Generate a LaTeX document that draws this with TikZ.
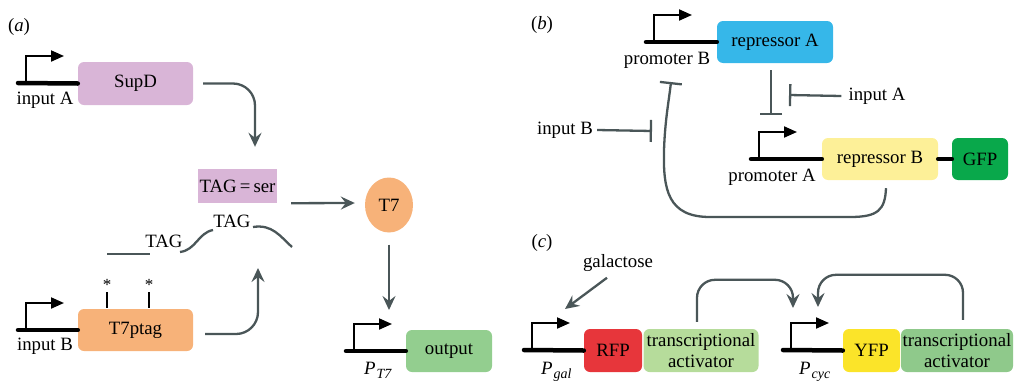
\documentclass[tikz,border=0pt]{standalone}
\usepackage{fontspec}
\setmainfont{Liberation Serif}
\usetikzlibrary{positioning,arrows.meta,shapes.geometric}
\definecolor{linkgray}{HTML}{4A5658}
\definecolor{supdpink}{HTML}{D9B5D7}
\definecolor{tsevenorange}{HTML}{F7B279}
\definecolor{outgreen}{HTML}{93CE8F}
\definecolor{repablue}{HTML}{36B7E9}
\definecolor{repbyellow}{HTML}{FDF098}
\definecolor{gfpgreen}{HTML}{09A84B}
\definecolor{rfpred}{HTML}{E7363B}
\definecolor{taonegreen}{HTML}{B6DC9B}
\definecolor{yfpyellow}{HTML}{FBE429}
\definecolor{tatwogreen}{HTML}{8FC98B}
\newcommand\promlab[2]{\textit{#1}\kern1pt\raisebox{-4pt}{\fontsize{14}{14}\selectfont\textit{#2}}}

\begin{document}
\begin{tikzpicture}[x=1pt, y=-1pt,
  every node/.style={inner sep=0pt, font=\fontsize{18.8}{21}\selectfont},
  gene/.style={rounded corners=6pt, minimum height=43pt, align=center},
  dna/.style={line width=4.5pt, line cap=round, black},
  tss/.style={line width=2pt, black, -{Triangle[length=13pt,width=11pt]}},
  act/.style={line width=2.3pt, linkgray, -{Stealth[length=14pt,width=13pt,inset=5pt]}},
  rep/.style={line width=2.3pt, linkgray, -{Bar[width=22pt]}}]
  \useasboundingbox (0,0) rectangle (1016,383);

  % (a)
  \node (la) at (19,27) {(\textit{a})};
  \node (supd) [gene, fill=supdpink, minimum width=115pt] at (135.5,83.5) {SupD};
  \node (t7ptag) [gene, fill=tsevenorange, minimum width=115pt, minimum height=42pt] at (135.5,330) {T7ptag};
  \node (tagser) [fill=supdpink, minimum width=79pt, minimum height=34pt] at (237.5,186) {TAG\,=\,ser};
  \node (t7) [ellipse, fill=tsevenorange, minimum width=48pt, minimum height=55pt] at (389,205) {T7};
  \node (output) [gene, fill=outgreen, minimum width=86pt, minimum height=42pt] at (449,351) {output};
  \node (inA) at (45,100) {input A};
  \node (inB) at (45,346) {input B};
  \node (tagone) at (164,241) {TAG};
  \node (tagtwo) at (232,221) {TAG};
  \node (pT7lab) [anchor=base west] at (364,374) {\promlab{P}{T7}};
  \node (starone) [font=\fontsize{17}{17}\selectfont] at (107,285) {*};
  \node (startwo) [font=\fontsize{17}{17}\selectfont] at (149,285) {*};
  \coordinate (pA) at (18,83);
  \coordinate (pBa) at (18,330);
  \coordinate (pT7) at (346,351);
  \coordinate (mrnain) at (258,268);
  \coordinate (pT7in) at (389,310);

  % (b)
  \node (lb) at (542,25) {(\textit{b})};
  \node (repA) [gene, fill=repablue, minimum width=116pt, minimum height=42pt] at (775,42) {repressor A};
  \node (repB) [gene, fill=repbyellow, minimum width=116pt, minimum height=42pt] at (880,159) {repressor B};
  \node (gfp) [gene, fill=gfpgreen, minimum width=56pt, minimum height=42pt] at (980,159) {GFP};
  \node (promBlab) at (667,60) {promoter B};
  \node (promAlab) at (772,177) {promoter A};
  \node (inAb) at (877,96) {input A};
  \node (inBb) at (565,130) {input B};
  \coordinate (promB) at (646,42);
  \coordinate (promA) at (751,159);
  \coordinate (promAin) at (771,115);
  \coordinate (promAside) at (789,95);
  \coordinate (promBside) at (652,131);
  \coordinate (promBin) at (671,82);

  % (c)
  \node (lc) at (542,243) {(\textit{c})};
  \node (rfp) [gene, fill=rfpred, minimum width=58pt] at (613,350.5) {RFP};
  \node (taone) [gene, fill=taonegreen, minimum width=115pt] at (701,350.5) {transcriptional\\activator};
  \node (yfp) [gene, fill=yfpyellow, minimum width=57pt] at (871.5,350.5) {YFP};
  \node (tatwo) [gene, fill=tatwogreen, minimum width=112pt] at (957,350.5) {transcriptional\\activator};
  \node (gal) at (618,263) {galactose};
  \node (pgallab) [anchor=base west] at (541,374) {\promlab{P}{gal}};
  \node (pcyclab) [anchor=base west] at (799,374) {\promlab{P}{cyc}};
  \coordinate (pgal) at (524,350);
  \coordinate (pcyc) at (783,350);
  \coordinate (galin) at (565,309);
  \coordinate (pcycinA) at (793,308);
  \coordinate (pcycinB) at (818,307);

  % promoters
  \draw[dna] (pA) -- (supd.west);
  \draw[dna] (pBa) -- (t7ptag.west);
  \draw[dna] (pT7) -- (output.west);
  \draw[dna] (promB) -- (repA.west);
  \draw[dna] (promA) -- (repB.west);
  \draw[dna] (repB.east) -- (gfp.west);
  \draw[dna] (pgal) -- (rfp.west);
  \draw[dna] (pcyc) -- (yfp.west);
  \foreach \p in {pA,pBa,pT7,promB,promA,pgal,pcyc}
    \draw[tss] ([xshift=8pt]\p) -- ++(0,-27) -- ++(38,0);

  % mRNA with tags
  \draw[line width=2.3pt, linkgray] (107,254) -- (150,254);
  \draw[line width=2.3pt, linkgray] (180,252) .. controls (196,250) and (198,233) .. (213,230);
  \draw[line width=2.3pt, linkgray] (253,227) .. controls (272,224) and (280,236) .. (292,247);
  \draw[line width=2pt, black] (107,292) -- (107,308);
  \draw[line width=2pt, black] (149,292) -- (149,308);

  % (a) links
  \draw[act, rounded corners=22pt] ([xshift=10pt]supd.east) -| ([xshift=17.5pt,yshift=22pt]tagser.north);
  \draw[act, rounded corners=22pt] ([xshift=12pt,yshift=-4pt]t7ptag.east) -| (mrnain);
  \draw[act] ([xshift=14pt]tagser.south east) -- ([xshift=-10pt,yshift=2pt]t7.west);
  \draw[act] ([yshift=-12pt]t7.south) -- (pT7in);

  % (b) links
  \draw[rep] ([xshift=-4pt,yshift=-7pt]repA.south) -- (promAin);
  \draw[rep] ([xshift=-7pt]inAb.west) -- (promAside);
  \draw[rep] ([xshift=4pt]inBb.east) -- (promBside);
  \draw[rep] ([xshift=6pt,yshift=-8pt]repB.south) .. controls (885,210) and (878,217) .. (850,217)
    -- (710,217) .. controls (668,217) and (663,190) .. (664,150)
    .. controls (665,120) and (669,100) .. (promBin);

  % (c) links
  \draw[act] ([xshift=-11pt,yshift=-6pt]gal.south) -- (galin);
  \draw[act, rounded corners=18pt] ([xshift=-4pt,yshift=7pt]taone.north) -- ++(0,-42) -| (pcycinA);
  \draw[act, rounded corners=18pt] ([xshift=6pt,yshift=9pt]tatwo.north) -- ++(0,-45) -| (pcycinB);
\end{tikzpicture}
\end{document}
